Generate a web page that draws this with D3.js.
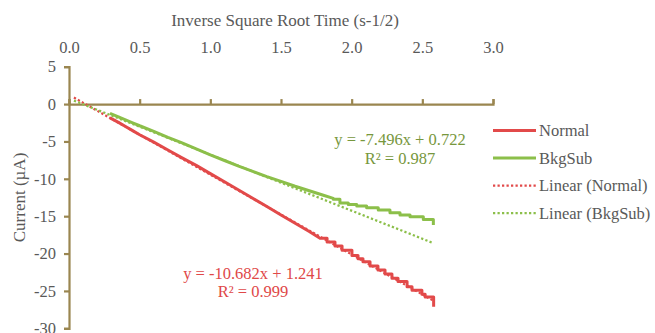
<!DOCTYPE html>
<html>
<head>
<meta charset="utf-8">
<script src="https://cdn.jsdelivr.net/npm/d3@7"></script>
<style>
  body { margin: 0; background: #fff; }
  svg { display: block; }
  text { font-family: "Liberation Serif", "Times New Roman", serif; }
</style>
</head>
<body>
<svg id="chart" width="655" height="333"></svg>
<script>
// ---- axis ticks ----
const xTickValues = [0, 0.5, 1, 1.5, 2, 2.5, 3];
const yTickValues = [5, 0, -5, -10, -15, -20, -25, -30];

// ---- Normal: dense early part, then the stepped tail (x where a level starts, level) ----
const normalHeadX = [0.29, 0.35, 0.4, 0.45, 0.5, 0.6, 0.7, 0.8, 0.9, 1.0, 1.1, 1.2, 1.3, 1.4, 1.5, 1.6, 1.7, 1.776];
const normalHeadY = [-1.85, -2.45, -3.0, -3.55, -4.1, -5.1, -6.15, -7.2, -8.2, -9.3, -10.4, -11.5, -12.6, -13.7, -14.85, -15.95, -17.05, -17.95];
const normalStepX = [1.776, 1.826, 1.882, 1.932, 2.002, 2.045, 2.080, 2.130, 2.186, 2.236, 2.285, 2.328, 2.392, 2.427, 2.497, 2.52, 2.58];
const normalStepY = [-17.95, -18.45, -19.0, -19.55, -20.25, -20.7, -21.1, -21.65, -22.2, -22.75, -23.3, -23.75, -24.45, -24.9, -25.45, -25.8, -27.1];

// ---- BkgSub ----
const bkgHeadX = [0.29, 0.35, 0.4, 0.45, 0.5, 0.6, 0.7, 0.8, 0.9, 1.0, 1.1, 1.2, 1.3, 1.4, 1.5, 1.6, 1.7, 1.8, 1.87];
const bkgHeadY = [-1.25, -1.7, -2.1, -2.5, -2.9, -3.65, -4.45, -5.2, -6.0, -6.8, -7.55, -8.3, -9.0, -9.7, -10.35, -11.0, -11.6, -12.2, -12.62];
const bkgStepX = [1.87, 1.917, 1.976, 2.036, 2.106, 2.188, 2.271, 2.342, 2.413, 2.507, 2.578];
const bkgStepY = [-12.75, -13.25, -13.42, -13.65, -13.87, -14.18, -14.54, -14.85, -15.08, -15.43, -16.19];

// ---- linear fits ----
const seriesNames = ["Normal", "BkgSub"];
const seriesColors = ["#E24A4A", "#8CBF4A"];
const labelColors = ["#E04848", "#77973D"];
const fitSlope = [-10.682, -7.496];
const fitIntercept = [1.241, 0.722];
const fitR2 = [0.999, 0.987];
const fitRange = [0.035, 2.58];
const legendLabels = ["Normal", "BkgSub", "Linear (Normal)", "Linear (BkgSub)"];

const svg = d3.select("#chart");
const axisColor = "#9A8650";
const textColor = "#595959";
const fontSize = 16.5;

const x = d3.scaleLinear().domain([0, 3]).range([69, 493]);
const y = d3.scaleLinear().domain([5, -30]).range([66.7, 328.3]);

// build the point list: linear head followed by horizontal/vertical steps
function buildPoints(hx, hy, sx, sy) {
  const pts = hx.map((v, i) => [v, hy[i]]);
  pts.push([sx[0], sy[0]]);
  for (let i = 1; i < sx.length; i++) {
    pts.push([sx[i], sy[i - 1]]);
    pts.push([sx[i], sy[i]]);
  }
  return pts;
}
const seriesPoints = [
  buildPoints(normalHeadX, normalHeadY, normalStepX, normalStepY),
  buildPoints(bkgHeadX, bkgHeadY, bkgStepX, bkgStepY)
];

const line = d3.line().x(d => x(d[0])).y(d => y(d[1]));

// ---- axes ----
const xAxis = svg.append("g")
  .attr("transform", `translate(0,${y(0)})`)
  .call(d3.axisTop(x).tickValues(xTickValues).tickFormat(d3.format(".1f")).tickSize(5).tickPadding(46));
const yAxis = svg.append("g")
  .attr("transform", `translate(${x(0)},0)`)
  .call(d3.axisLeft(y).tickValues(yTickValues).tickSize(5).tickPadding(8));

[xAxis, yAxis].forEach(g => {
  g.select(".domain").attr("stroke", axisColor).attr("stroke-width", 2.2);
  g.selectAll(".tick line").attr("stroke", axisColor).attr("stroke-width", 2.2);
  g.selectAll(".tick text")
    .attr("fill", textColor)
    .style("font-size", fontSize + "px")
    .style("font-family", '"Liberation Serif", "Times New Roman", serif');
});
yAxis.selectAll(".tick text").text(d => String(d));

// axis titles
svg.append("text")
  .attr("x", 285).attr("y", 26)
  .attr("text-anchor", "middle")
  .attr("fill", textColor)
  .style("font-size", "17px")
  .text("Inverse Square Root Time (s-1/2)");

svg.append("text")
  .attr("transform", "translate(25,197.5) rotate(-90)")
  .attr("text-anchor", "middle")
  .attr("fill", textColor)
  .style("font-size", "17px")
  .text("Current (µA)");

// ---- data series ----
seriesPoints.forEach((pts, i) => {
  svg.append("path")
    .attr("d", line(pts))
    .attr("fill", "none")
    .attr("stroke", seriesColors[i])
    .attr("stroke-width", 3)
    .attr("stroke-linejoin", "round");
});

// ---- trendlines ----
fitSlope.forEach((m, i) => {
  const pts = fitRange.map(v => [v, m * v + fitIntercept[i]]);
  svg.append("path")
    .attr("d", line(pts))
    .attr("fill", "none")
    .attr("stroke", seriesColors[i])
    .attr("stroke-width", 2.25)
    .attr("stroke-dasharray", "2.25,2.25");
});

// ---- equation labels ----
const eqPos = [[253, 278.5], [400, 145]];
fitSlope.forEach((m, i) => {
  const g = svg.append("text")
    .attr("text-anchor", "middle")
    .attr("fill", labelColors[i])
    .style("font-size", fontSize + "px");
  g.append("tspan").attr("x", eqPos[i][0]).attr("y", eqPos[i][1])
    .text(`y = ${m.toFixed(3)}x + ${fitIntercept[i].toFixed(3)}`);
  g.append("tspan").attr("x", eqPos[i][0]).attr("y", eqPos[i][1] + 18.5)
    .text(`R² = ${fitR2[i].toFixed(3)}`);
});

// ---- legend ----
const legendRows = [130.5, 158, 185.5, 213];
legendLabels.forEach((label, i) => {
  const s = i % 2;
  const dotted = i >= 2;
  svg.append("line")
    .attr("x1", 493).attr("x2", 536)
    .attr("y1", legendRows[i]).attr("y2", legendRows[i])
    .attr("stroke", seriesColors[s])
    .attr("stroke-width", dotted ? 2.25 : 3)
    .attr("stroke-dasharray", dotted ? "2.25,2.25" : null);
  svg.append("text")
    .attr("x", 539).attr("y", legendRows[i])
    .attr("dy", "0.35em")
    .attr("fill", textColor)
    .style("font-size", fontSize + "px")
    .text(label);
});
</script>
</body>
</html>
